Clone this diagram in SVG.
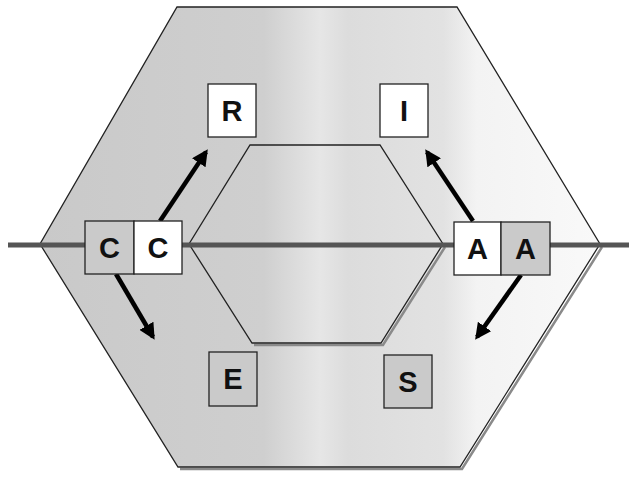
<svg xmlns="http://www.w3.org/2000/svg" width="629" height="480" viewBox="0 0 629 480">
  <defs>
    <linearGradient id="bandFill" gradientUnits="userSpaceOnUse" x1="40" y1="0" x2="600" y2="0">
      <stop offset="0" stop-color="#c9c9c9"/>
      <stop offset="0.4" stop-color="#cfcfcf"/>
      <stop offset="0.5" stop-color="#e6e6e6"/>
      <stop offset="0.55" stop-color="#dcdcdc"/>
      <stop offset="0.72" stop-color="#e2e2e2"/>
      <stop offset="0.78" stop-color="#f3f3f3"/>
      <stop offset="1" stop-color="#f9f9f9"/>
    </linearGradient>
    <marker id="head" viewBox="0 0 10 10" refX="8" refY="5" markerWidth="3.6" markerHeight="3.6" orient="auto">
      <path d="M0,0 L10,5 L0,10 Z" fill="#000"/>
    </marker>
  </defs>
  <style>
    .hex { fill: url(#bandFill); stroke: #222; stroke-width: 1.3; }
    .shadow { fill: none; stroke: #8a8a8a; stroke-width: 2.5; }
    .box-white { fill: #ffffff; stroke: #222; stroke-width: 1.3; }
    .box-gray { fill: #cacaca; stroke: #222; stroke-width: 1.3; }
    .label { font-family: "Liberation Sans", Arial, sans-serif; font-weight: bold; font-size: 29px; fill: #111; text-anchor: middle; }
    .arrow { stroke: #000; stroke-width: 4.5; fill: none; marker-end: url(#head); }
    .axis { stroke: #555; stroke-width: 5; }
  </style>

  <rect width="629" height="480" fill="#ffffff"/>

  <g id="outer-ring">
    <polyline class="shadow" points="602,247 462,469 180,469"/>
    <polygon class="hex" points="177,7 457,7 600,244 460,467 178,467 40,244"/>
  </g>

  <g id="inner-ring">
    <polyline class="shadow" points="445,247 383,345 254,345"/>
    <polygon class="hex" points="250,145 380,145 443,244 381,343 252,343 189,244"/>
  </g>

  <g id="axis">
    <line class="axis" x1="8" y1="245" x2="629" y2="245"/>
  </g>

  <g id="connectors">
    <line class="arrow" x1="160" y1="221" x2="206" y2="152"/>
    <line class="arrow" x1="116" y1="274" x2="153" y2="337"/>
    <line class="arrow" x1="473" y1="221" x2="427" y2="152"/>
    <line class="arrow" x1="521" y1="275" x2="477" y2="337"/>
  </g>

  <g id="node-c-outer">
    <rect class="box-gray" x="85" y="221" width="49" height="53"/>
    <text class="label" x="109.5" y="258">C</text>
  </g>
  <g id="node-c-inner">
    <rect class="box-white" x="134" y="221" width="48" height="53"/>
    <text class="label" x="158" y="258">C</text>
  </g>
  <g id="node-a-inner">
    <rect class="box-white" x="454" y="222" width="47" height="53"/>
    <text class="label" x="477.5" y="259">A</text>
  </g>
  <g id="node-a-outer">
    <rect class="box-gray" x="501" y="222" width="49" height="53"/>
    <text class="label" x="525.5" y="259">A</text>
  </g>
  <g id="node-r">
    <rect class="box-white" x="208" y="84" width="48" height="53"/>
    <text class="label" x="232" y="121">R</text>
  </g>
  <g id="node-i">
    <rect class="box-white" x="380" y="84" width="48" height="53"/>
    <text class="label" x="404" y="121">I</text>
  </g>
  <g id="node-e">
    <rect class="box-gray" x="209" y="352" width="48" height="54"/>
    <text class="label" x="233" y="389">E</text>
  </g>
  <g id="node-s">
    <rect class="box-gray" x="384" y="355" width="48" height="53"/>
    <text class="label" x="408" y="392">S</text>
  </g>
</svg>
